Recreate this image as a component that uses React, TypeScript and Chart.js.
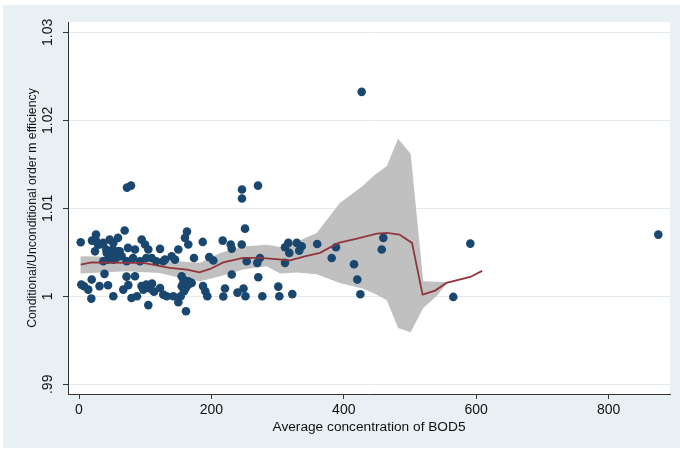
import React, { useEffect, useRef } from "react";
import { Chart, registerables } from "chart.js";

Chart.register(...registerables);

// ---- Data ----
const bodX: number[] = [
  2.6, 19.6, 25.7, 24.2, 28.7, 36.7, 46.4, 51.8, 58.9, 69.0, 46.8, 36.7, 51.8, 64.5, 59.4, 72.0,
  84.6, 94.7, 99.7, 104.7, 92.1, 122.4, 109.8, 116.8, 127.3, 140.0, 145.0, 129.9, 150.0, 160.1,
  163.1, 165.1, 173.7, 186.9, 196.8, 202.9, 217.1, 229.2, 230.7, 245.8, 250.8, 253.3, 273.4,
  269.3, 311.2, 311.2, 316.2, 317.7, 328.9, 336.4, 332.7, 359.8, 388.2, 381.7, 415.4, 420.4,
  425.0, 459.7, 457.3, 427.0, 565.4, 591.1, 875.1, 72.5, 78.5, 246.2, 246.2, 270.4,
  41.2, 51.4, 61.5, 48.8, 43.8, 56.3, 31.3, 26.1, 74.0, 81.6, 101.7, 41.8,
  3.5, 19.2, 7.6, 14.0, 18.6, 31.0, 38.5, 43.8, 51.8, 66.9, 71.8, 74.5, 79.3, 84.6, 87.6, 94.4,
  97.1, 104.7, 110.3, 113.3, 122.4, 127.3, 132.5, 142.5, 150.0, 155.1, 157.6, 155.1, 158.6,
  153.6, 161.6, 165.1, 170.2, 161.6, 187.3, 190.8, 193.8, 218.0, 220.5, 230.7, 239.4, 248.5,
  251.5, 270.8, 276.9, 301.0, 302.6, 322.2, 101.7, 106.8, 157.6, 165.1,
];
const effY: number[] = [
  1.00614, 1.00633, 1.00701, 1.00511, 1.00588, 1.00607, 1.00644, 1.00607, 1.00664, 1.00747,
  1.00511, 1.00398, 1.00417, 1.00455, 1.00511, 1.00398, 1.00531, 1.00644, 1.00588, 1.00531,
  1.00398, 1.00539, 1.00436, 1.00398, 1.00398, 1.00455, 1.00417, 1.00417, 1.00531, 1.00664,
  1.00735, 1.00588, 1.00436, 1.00618, 1.00445, 1.00406, 1.00633, 1.00588, 1.00542, 1.00588,
  1.00769, 1.00398, 1.00436, 1.0038, 1.0038, 1.00557, 1.00607, 1.00493, 1.00607, 1.00568,
  1.00519, 1.00595, 1.00557, 1.00436, 1.00364, 1.0019, 1.00023, 1.00664, 1.00531, 1.02323,
  0.99993, 1.00599, 1.00701, 1.01235, 1.01258, 1.01213, 1.01111, 1.01258,
  1.00531, 1.00531, 1.00511, 1.00455, 1.00417, 1.00436, 1.00588, 1.00625, 1.0055, 1.00436,
  1.00436, 1.00493,
  1.00133, 1.0019, 1.00114, 1.00076, 0.99974, 1.00116, 1.00255, 1.00125, 1.0, 1.00076, 1.00224,
  1.00127, 0.9998, 1.00227, 1.0, 1.00116, 1.00076, 0.999, 1.00144, 1.00053, 1.00095, 1.00019,
  1.0, 1.0, 0.99932, 1.00227, 1.0019, 1.00114, 1.00057, 1.0, 0.9983, 1.0017, 1.00152, 1.00099,
  1.00116, 1.00057, 1.0, 0.99997, 1.00088, 1.00247, 1.00042, 1.00088, 1.0, 1.00216, 1.0,
  1.0011, 1.0, 1.00025, 1.00133, 1.00088, 1.00152, 1.00133,
];

const smoothX: number[] = [
  2.6, 19, 72, 97, 137, 163, 182, 198, 218, 248, 273, 293, 319, 341, 364, 392, 420, 450, 465,
  484, 503, 519, 538, 555, 591, 609,
];
const smoothY: number[] = [
  1.0036, 1.00386, 1.0038, 1.0038, 1.00323, 1.00303, 1.00273, 1.00311, 1.00386, 1.00436,
  1.00436, 1.00425, 1.00409, 1.00455, 1.00493, 1.00607, 1.00656, 1.00712, 1.0072, 1.00701,
  1.00607, 1.00019, 1.00065, 1.00152, 1.0022, 1.00289,
];

const bandX: number[] = [
  2, 72, 122, 163, 183, 213, 248, 283, 304, 329, 359, 394, 428, 447, 465, 482, 501, 520, 540, 555,
];
const bandUpper: number[] = [
  1.00455, 1.00448, 1.00425, 1.0039, 1.0038, 1.00493, 1.00565, 1.00587, 1.0056, 1.0062, 1.0072,
  1.0106, 1.0125, 1.0138, 1.0148, 1.0179, 1.0162, 1.0017, 1.00165, 1.0016,
];
const bandLower: number[] = [
  1.00258, 1.00284, 1.00266, 1.0019, 1.0017, 1.00227, 1.00305, 1.00341, 1.0026, 1.0027, 1.0025,
  1.0015, 1.0009, 1.0003, 0.99955, 0.99641, 0.99591, 0.99868, 1.0, 1.0014,
];

const xTickValues: number[] = [0, 200, 400, 600, 800];
const yTickValues: number[] = [0.99, 1.0, 1.01, 1.02, 1.03];
const yTickLabels: string[] = [".99", "1", "1.01", "1.02", "1.03"];

const xTitle = "Average concentration of BOD5";
const yTitle = "Conditional/Unconditional order m efficiency";

const FONT = '"Liberation Sans", Arial, Helvetica, sans-serif';

export default function App() {
  const canvasRef = useRef<HTMLCanvasElement | null>(null);

  useEffect(() => {
    document.body.style.margin = "0";
    const canvas = canvasRef.current;
    if (!canvas) return;

    const bgPlugin = {
      id: "bgPlugin",
      beforeDraw(chart: any) {
        const { ctx, chartArea } = chart;
        ctx.save();
        ctx.fillStyle = "#ffffff";
        ctx.fillRect(0, 0, chart.width, chart.height);
        ctx.fillStyle = "#e9f0f3";
        ctx.fillRect(3, 5, chart.width - 3, chart.height - 7);
        ctx.fillStyle = "#ffffff";
        ctx.fillRect(chartArea.left, chartArea.top, chartArea.right - chartArea.left, chartArea.bottom - chartArea.top);
        ctx.restore();
      },
    };

    const yLabelPlugin = {
      id: "yLabelPlugin",
      afterDraw(chart: any) {
        const { ctx } = chart;
        const ys = chart.scales.y;
        ctx.save();
        ctx.font = `14px ${FONT}`;
        ctx.fillStyle = "#111111";
        ctx.textAlign = "center";
        ctx.textBaseline = "middle";
        yTickValues.forEach((v, i) => {
          const py = ys.getPixelForValue(v);
          ctx.save();
          ctx.translate(48.5, py);
          ctx.rotate(-Math.PI / 2);
          ctx.fillText(yTickLabels[i], 0, 0);
          ctx.restore();
        });
        ctx.restore();
      },
    };

    const chart = new Chart(canvas, {
      type: "scatter",
      data: {
        datasets: [
          {
            type: "line",
            label: "smooth",
            data: smoothX.map((x, i) => ({ x, y: smoothY[i] })),
            borderColor: "#90353b",
            borderWidth: 1.8,
            pointRadius: 0,
            tension: 0,
            fill: false,
            order: 0,
          } as any,
          {
            type: "scatter",
            label: "points",
            data: bodX.map((x, i) => ({ x, y: effY[i] })),
            backgroundColor: "#1a476f",
            borderWidth: 0,
            pointRadius: 4.3,
            order: 1,
          } as any,
          {
            type: "line",
            label: "upper",
            data: bandX.map((x, i) => ({ x, y: bandUpper[i] })),
            borderWidth: 0,
            borderColor: "rgba(0,0,0,0)",
            backgroundColor: "#c0c0c0",
            pointRadius: 0,
            tension: 0,
            fill: "+1",
            order: 2,
          } as any,
          {
            type: "line",
            label: "lower",
            data: bandX.map((x, i) => ({ x, y: bandLower[i] })),
            borderWidth: 0,
            borderColor: "rgba(0,0,0,0)",
            backgroundColor: "#c0c0c0",
            pointRadius: 0,
            tension: 0,
            fill: false,
            order: 3,
          } as any,
        ],
      },
      options: {
        animation: false,
        responsive: false,
        devicePixelRatio: 1,
        layout: { padding: { top: 22, right: 10, left: 0, bottom: 0 } },
        plugins: {
          legend: { display: false },
          tooltip: { enabled: false },
        },
        scales: {
          x: {
            type: "linear",
            min: -16.62,
            max: 892.75,
            afterBuildTicks: (s: any) => {
              s.ticks = xTickValues.map((v) => ({ value: v }));
            },
            afterFit: (s: any) => {
              s.height = 56;
            },
            ticks: {
              font: { size: 14, family: FONT },
              color: "#111111",
              padding: 3,
              maxRotation: 0,
              autoSkip: false,
              callback: (v: any) => String(v),
            },
            grid: {
              drawOnChartArea: false,
              drawTicks: true,
              tickLength: 5,
              tickColor: "#333333",
            },
            border: { display: true, color: "#333333", width: 1 },
            title: {
              display: true,
              text: xTitle,
              font: { size: 13.7, family: FONT },
              color: "#111111",
              padding: { top: 0, bottom: 14.8 },
            },
          },
          y: {
            type: "linear",
            min: 0.988898,
            max: 1.03117,
            afterBuildTicks: (s: any) => {
              s.ticks = yTickValues.map((v) => ({ value: v }));
            },
            afterFit: (s: any) => {
              s.width = 68;
            },
            ticks: { display: false },
            grid: {
              color: "#e3ebef",
              lineWidth: 1,
              drawTicks: true,
              tickLength: 5,
              tickColor: "#333333",
            },
            border: { display: true, color: "#333333", width: 1 },
            title: {
              display: true,
              text: yTitle,
              font: { size: 12.3, family: FONT },
              color: "#111111",
              padding: { top: 25, bottom: 0 },
            },
          },
        },
      } as any,
      plugins: [bgPlugin, yLabelPlugin],
    });

    return () => {
      chart.destroy();
    };
  }, []);

  return (
    <div style={{ width: 680, height: 450, overflow: "hidden" }}>
      <canvas ref={canvasRef} width={680} height={450} style={{ display: "block" }} />
    </div>
  );
}
